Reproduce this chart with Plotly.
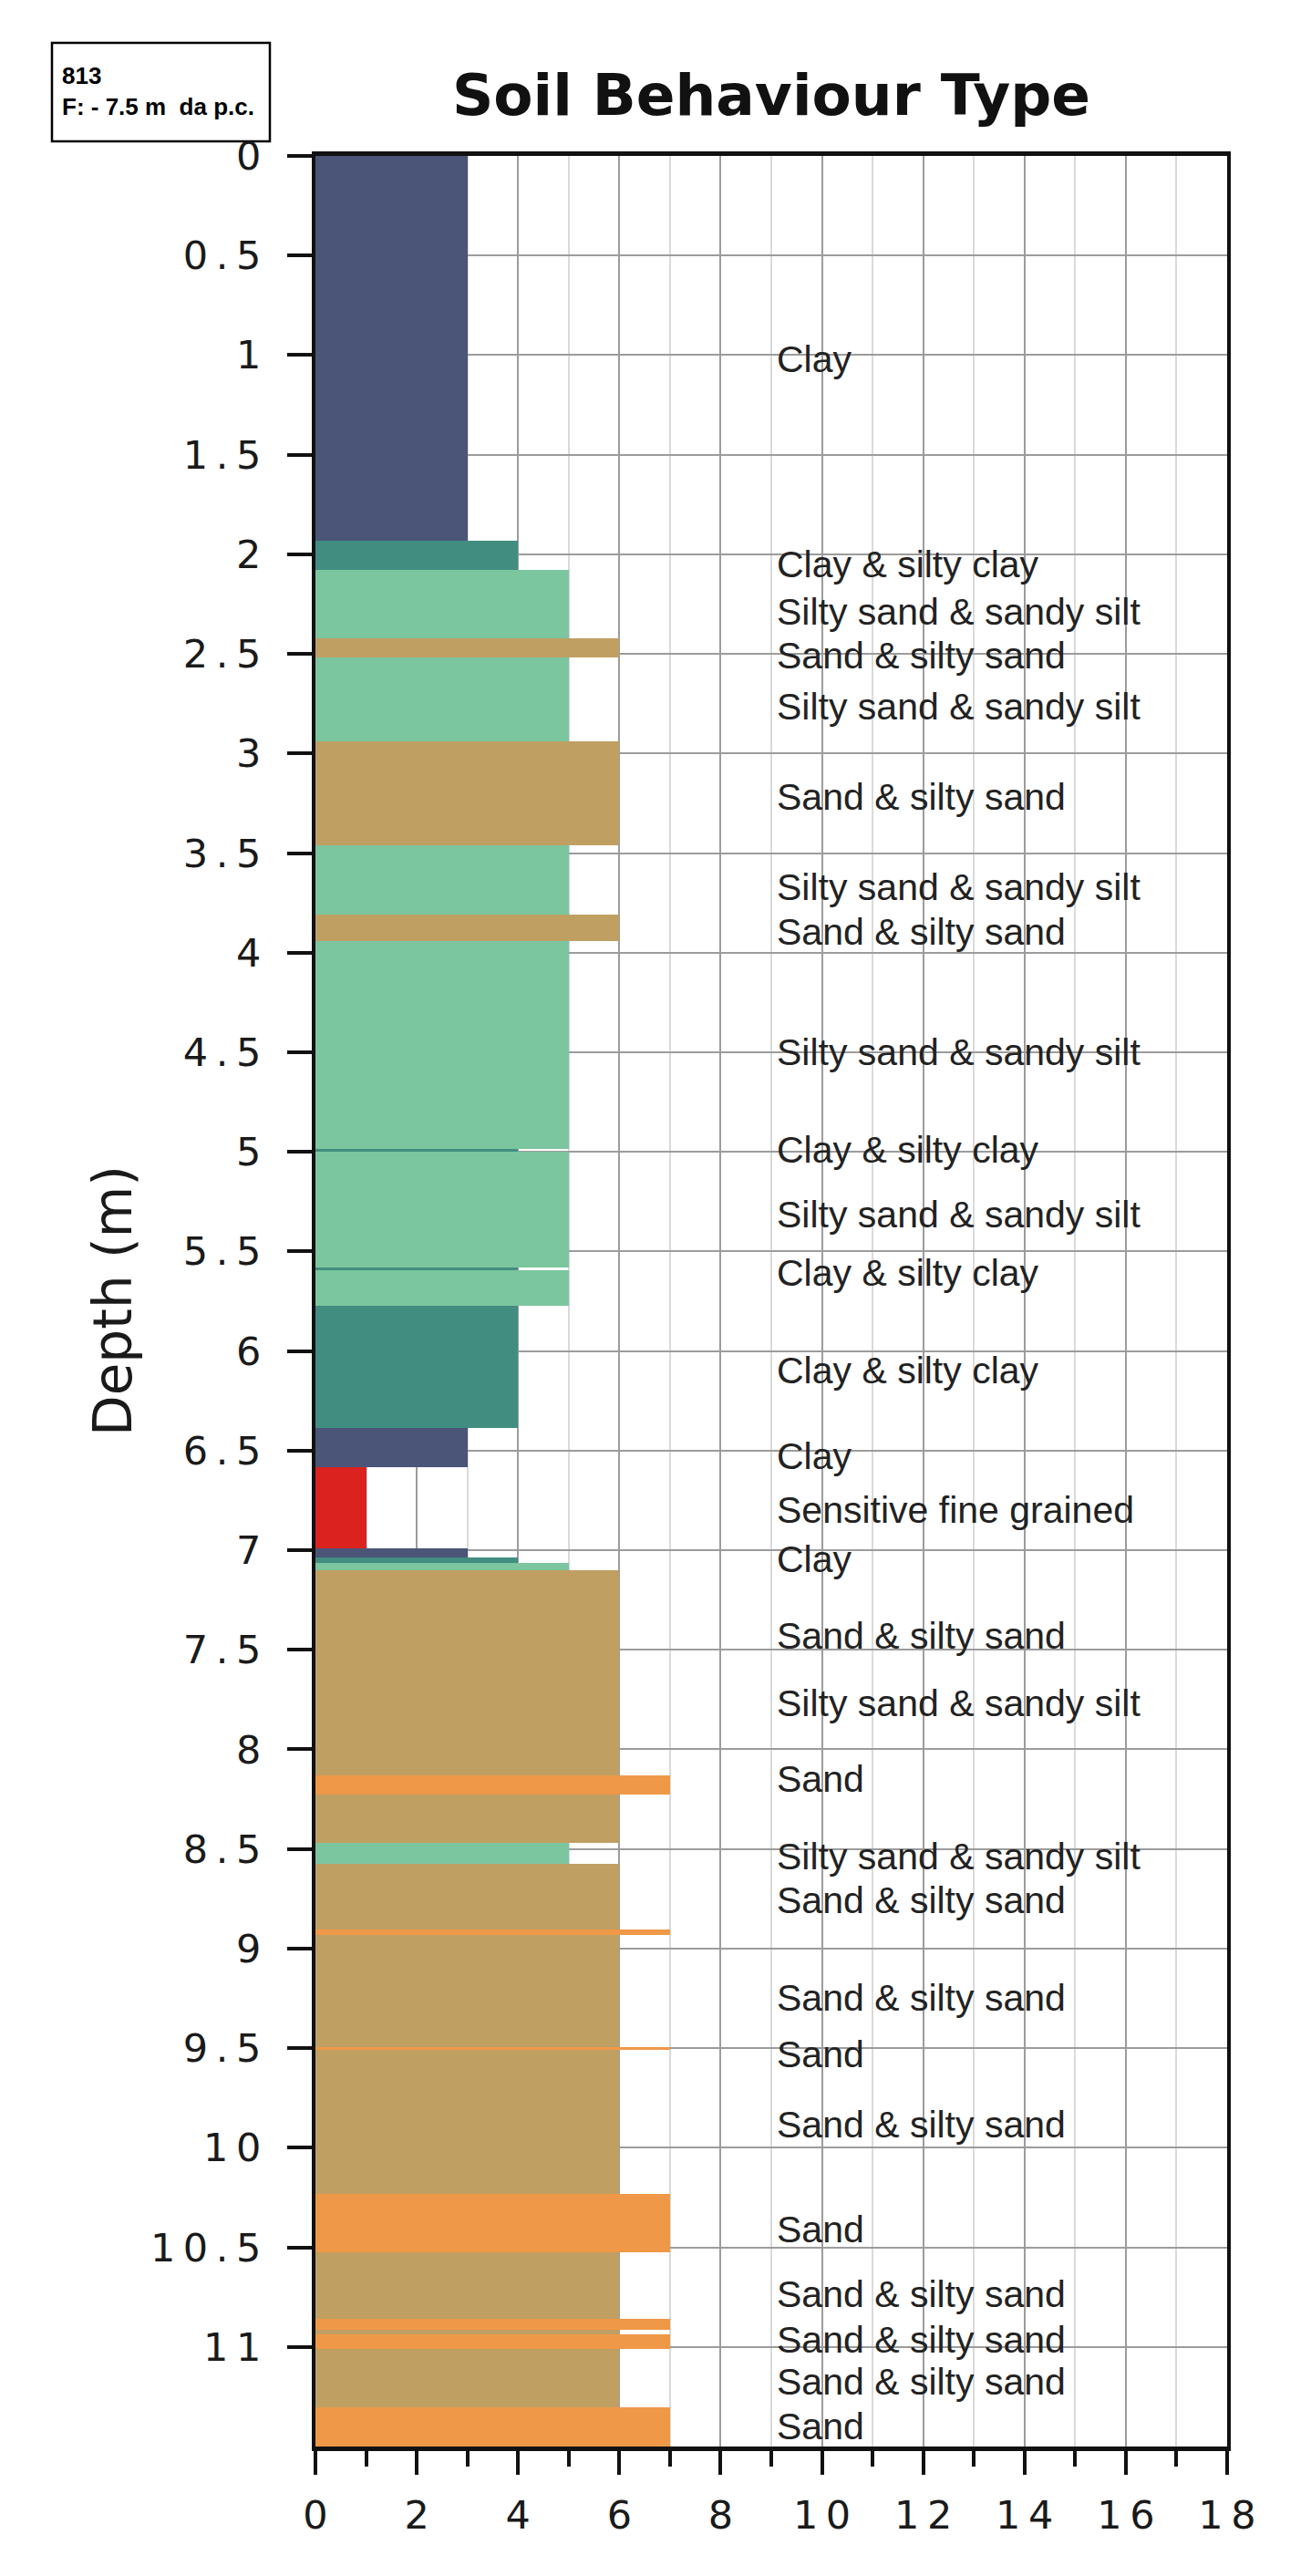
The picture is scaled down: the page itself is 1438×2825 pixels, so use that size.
import plotly.graph_objects as go

# ---------------- data ----------------
layer_top = [0.00, 1.93, 2.08, 2.42, 2.52, 2.94, 3.46, 3.81, 3.94, 4.985,
             5.00, 5.58, 5.595, 5.775, 6.385, 6.585, 6.99, 7.035, 7.065, 7.10,
             8.13, 8.225, 8.47, 8.575, 8.905, 8.93, 9.495, 9.51, 10.23, 10.525,
             10.86, 10.915, 10.935, 11.01, 11.305]
layer_bottom = [1.93, 2.08, 2.42, 2.52, 2.94, 3.46, 3.81, 3.94, 4.985, 5.00,
                5.58, 5.595, 5.775, 6.385, 6.585, 6.99, 7.035, 7.065, 7.10, 8.13,
                8.225, 8.47, 8.575, 8.905, 8.93, 9.495, 9.51, 10.23, 10.525, 10.86,
                10.915, 10.935, 11.01, 11.305, 11.5]
layer_zone = [3, 4, 5, 6, 5, 6, 5, 6, 5, 4,
              5, 4, 5, 4, 3, 1, 3, 4, 5, 6,
              7, 6, 5, 6, 7, 6, 7, 6, 7, 6,
              7, 6, 7, 6, 7]

zone_colors = {1: "#dc221f", 3: "#4a5577", 4: "#418e80", 5: "#7bc59f",
               6: "#bf9f62", 7: "#ef9847"}

label_depth = [1.02, 2.05, 2.29, 2.51, 2.765, 3.22, 3.67, 3.895, 4.50, 4.99,
               5.315, 5.61, 6.10, 6.527, 6.80, 7.045, 7.43, 7.77, 8.15, 8.536,
               8.756, 9.248, 9.531, 9.886, 10.409, 10.734, 10.964, 11.173, 11.40]
label_text = ["Clay", "Clay & silty clay", "Silty sand & sandy silt", "Sand & silty sand",
              "Silty sand & sandy silt", "Sand & silty sand", "Silty sand & sandy silt",
              "Sand & silty sand", "Silty sand & sandy silt", "Clay & silty clay",
              "Silty sand & sandy silt", "Clay & silty clay", "Clay & silty clay", "Clay",
              "Sensitive fine grained", "Clay", "Sand & silty sand", "Silty sand & sandy silt",
              "Sand", "Silty sand & sandy silt", "Sand & silty sand", "Sand & silty sand",
              "Sand", "Sand & silty sand", "Sand", "Sand & silty sand", "Sand & silty sand",
              "Sand & silty sand", "Sand"]
label_x = 9.07

y_tick_vals = [0, 0.5, 1, 1.5, 2, 2.5, 3, 3.5, 4, 4.5, 5, 5.5, 6, 6.5, 7, 7.5,
               8, 8.5, 9, 9.5, 10, 10.5, 11]
y_tick_labels = ["0", "0.5", "1", "1.5", "2", "2.5", "3", "3.5", "4", "4.5", "5", "5.5",
                 "6", "6.5", "7", "7.5", "8", "8.5", "9", "9.5", "10", "10.5", "11"]
x_tick_vals = [0, 2, 4, 6, 8, 10, 12, 14, 16, 18]
x_tick_labels = ["0", "2", "4", "6", "8", "10", "12", "14", "16", "18"]

title_text = "Soil Behaviour Type"
y_title = "Depth (m)"
box_lines = ["813", "F: - 7.5 m\u00a0 da p.c."]

# ---------------- figure ----------------
def spaced(s):
    return "\u2009".join(list(s))

mid = [(t + b) / 2 for t, b in zip(layer_top, layer_bottom)]
thick = [b - t for t, b in zip(layer_top, layer_bottom)]
colors = [zone_colors[z] for z in layer_zone]

fig = go.Figure()
fig.add_trace(go.Bar(
    orientation="h", y=mid, x=layer_zone, width=thick, base=0,
    marker=dict(color=colors, line=dict(width=0)),
    hoverinfo="skip", showlegend=False,
))

fig.update_xaxes(
    range=[0, 18], tickmode="array", tickvals=x_tick_vals,
    ticktext=[spaced(t) for t in x_tick_labels],
    ticks="outside", ticklen=26, tickwidth=4, tickcolor="#111",
    showline=True, linecolor="#111", linewidth=5, mirror=True,
    showgrid=True, gridcolor="#9c9c9c", gridwidth=2, zeroline=False,
    minor=dict(dtick=1, tick0=0, ticks="outside", ticklen=17, tickwidth=4,
               tickcolor="#111", showgrid=True, gridcolor="#dadada", gridwidth=2),
    tickfont=dict(family="DejaVu Sans", size=43, color="#1a1a1a"),
    ticklabelstandoff=7,
)
fig.update_yaxes(
    range=[11.5, 0], tickmode="array", tickvals=y_tick_vals,
    ticktext=[spaced(t) for t in y_tick_labels],
    ticks="outside", ticklen=27, tickwidth=4, tickcolor="#111",
    showline=True, linecolor="#111", linewidth=4, mirror=True,
    showgrid=True, gridcolor="#9c9c9c", gridwidth=2, zeroline=False,
    tickfont=dict(family="DejaVu Sans", size=43, color="#1a1a1a"),
    ticklabelstandoff=20,
)

annotations = []
for d, t in zip(label_depth, label_text):
    annotations.append(dict(x=label_x, y=d, xref="x", yref="y", text=t,
                            showarrow=False, xanchor="left", yanchor="middle",
                            font=dict(family="Liberation Sans", size=41, color="#222")))

annotations.append(dict(x=-0.222, y=0.5, xref="paper", yref="paper", text=y_title,
                        textangle=-90, showarrow=False, xanchor="center", yanchor="middle",
                        font=dict(family="DejaVu Sans", size=58, color="#1a1a1a")))

annotations.append(dict(x=-0.280, y=1.0283, xref="paper", yref="paper",
                        text="<br>".join(box_lines), align="left",
                        showarrow=False, xanchor="left", yanchor="middle",
                        font=dict(family="Liberation Sans", size=26, color="#000",
                                  weight="bold")))

fig.add_shape(type="rect", xref="paper", yref="paper",
              x0=-0.289, x1=-0.050, y0=1.0064, y1=1.0494,
              line=dict(color="#000", width=2.5), fillcolor="white", layer="below")

fig.update_layout(
    width=1438, height=2825,
    margin=dict(l=338, r=100, t=163, b=150),
    plot_bgcolor="white", paper_bgcolor="white",
    showlegend=False, bargap=0,
    title=dict(text=title_text, x=0.5, xref="paper", xanchor="center",
               y=1 - 96 / 2825, yref="container", yanchor="middle",
               font=dict(family="DejaVu Sans", size=63, color="#111", weight="bold")),
    annotations=annotations,
)

fig.write_html("out.html")
